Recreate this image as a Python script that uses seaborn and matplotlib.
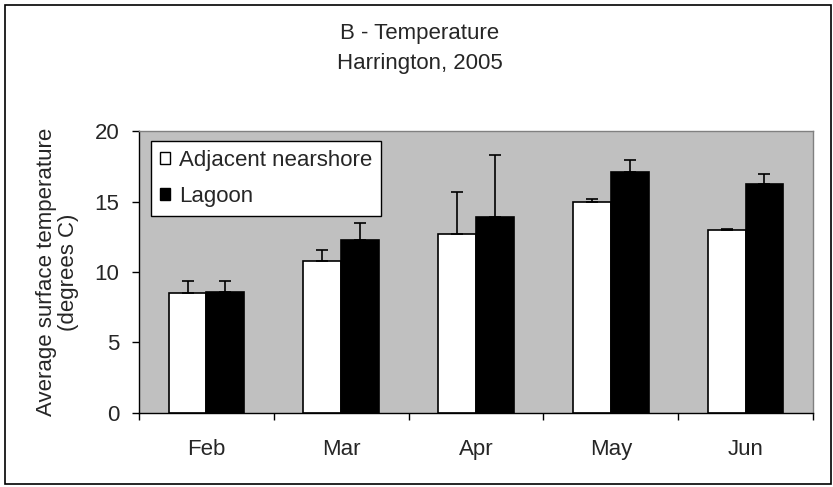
import matplotlib
matplotlib.use("Agg")
import matplotlib.pyplot as plt
import seaborn as sns
import pandas as pd
import numpy as np
from matplotlib.patches import Rectangle

months = ["Feb", "Mar", "Apr", "May", "Jun"]
series = ["Adjacent nearshore", "Lagoon"]
nearshore = [8.5, 10.8, 12.7, 15.0, 13.0]
nearshore_err = [0.9, 0.8, 3.0, 0.2, 0.1]
lagoon = [8.6, 12.3, 13.9, 17.1, 16.3]
lagoon_err = [0.8, 1.2, 4.4, 0.9, 0.7]
yticks = [0, 5, 10, 15, 20]

sns.set_theme(style="white")
plt.rcParams["font.family"] = ["Liberation Sans", "DejaVu Sans"]

df = pd.DataFrame({
    "Month": months * 2,
    "Series": [series[0]] * len(months) + [series[1]] * len(months),
    "Temp": nearshore + lagoon,
})

FS = 16

fig = plt.figure(figsize=(8.33, 4.87), dpi=100)
ax = fig.add_axes([0.1669, 0.1526, 0.976 - 0.1669, 0.730 - 0.1526])
ax.set_facecolor("#C0C0C0")

sns.barplot(data=df, x="Month", y="Temp", hue="Series", order=months,
            hue_order=series, palette=["white", "black"], edgecolor="black",
            linewidth=1.2, width=0.56, gap=0, errorbar=None, ax=ax,
            saturation=1)

# error bars (upper only)
errs = [nearshore_err, lagoon_err]
vals = [nearshore, lagoon]
bar_containers = list(ax.containers)
for si, cont in enumerate(bar_containers):
    xs = [p.get_x() + p.get_width() / 2 for p in cont.patches]
    ax.errorbar(xs, vals[si], yerr=[np.zeros(len(xs)), errs[si]], fmt="none",
                ecolor="black", elinewidth=1.2, capsize=4.5, capthick=1.2,
                zorder=1)

ax.set_xlim(-0.5, len(months) - 0.5)
ax.set_ylim(0, 20)
ax.set_yticks(yticks)
ax.set_yticklabels([str(t) for t in yticks], fontsize=FS)
ax.set_xticks(range(len(months)))
ax.set_xticklabels(months, fontsize=FS)
ax.set_xticks(np.arange(-0.5, len(months)), minor=True)
ax.tick_params(axis="x", which="major", length=0, pad=19)
ax.tick_params(axis="x", which="minor", length=5, width=1, color="black",
               direction="out", bottom=True)
ax.tick_params(axis="y", which="major", length=5, width=1, color="black",
               direction="out", left=True, pad=9)
ax.set_xlabel("")
ax.set_ylabel("Average surface temperature\n(degrees C)", fontsize=FS,
              linespacing=1.1, labelpad=11)

for s in ["left", "bottom"]:
    ax.spines[s].set_color("black")
    ax.spines[s].set_linewidth(1)
for s in ["top", "right"]:
    ax.spines[s].set_color("#808080")
    ax.spines[s].set_linewidth(1)

leg = ax.legend(loc="upper left", bbox_to_anchor=(0.018, 0.965), fontsize=FS,
                frameon=True, fancybox=False, edgecolor="black",
                framealpha=1, handlelength=0.45, handleheight=0.45,
                handletextpad=0.4, borderpad=0.4, labelspacing=0.65,
                borderaxespad=0, title=None)
leg.get_frame().set_linewidth(1)
for h in leg.legend_handles:
    h.set_linewidth(1)

fig.text(0.504, 0.931, "B - Temperature", ha="center", va="center", fontsize=FS)
fig.text(0.504, 0.870, "Harrington, 2005", ha="center", va="center", fontsize=FS)

fig.patches.append(Rectangle((0.006, 0.006), 0.992, 0.984, transform=fig.transFigure,
                             fill=False, edgecolor="black", linewidth=1.2))

fig.savefig("out.png", dpi=100)
